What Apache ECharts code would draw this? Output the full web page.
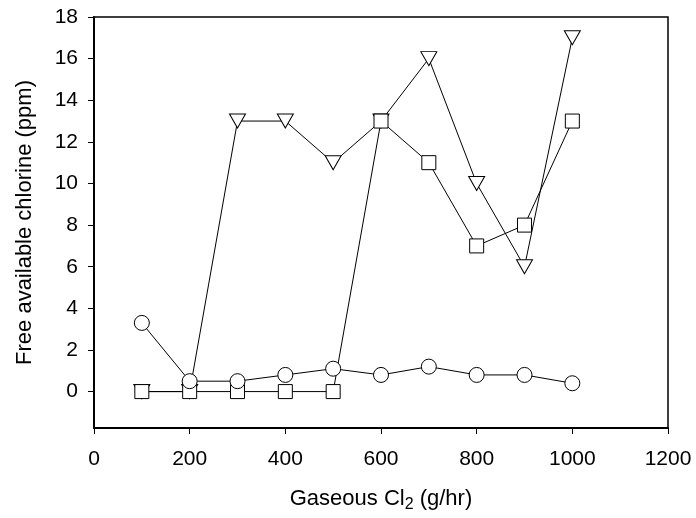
<!DOCTYPE html>
<html>
<head>
<meta charset="utf-8">
<script src="https://cdn.jsdelivr.net/npm/echarts@6/dist/echarts.min.js"></script>
<style>html,body{margin:0;padding:0;background:#fff}#c{width:696px;height:518px}</style>
</head>
<body>
<div id="c"></div>
<script>
const xValues = [100, 200, 300, 400, 500, 600, 700, 800, 900, 1000];
const circleSeries = [3.3, 0.5, 0.5, 0.8, 1.1, 0.8, 1.2, 0.8, 0.8, 0.4];
const squareSeries = [0, 0, 0, 0, 0, 13, 11, 7, 8, 13];
const triangleSeries = [0, 0, 13, 13, 11, 13, 16, 10, 6, 17];
const yTicks = [0, 2, 4, 6, 8, 10, 12, 14, 16, 18];

const pairs = arr => xValues.map((x, i) => [x, arr[i]]);
const font = 'Liberation Sans, Arial, sans-serif';
const base = {
  type: 'line',
  lineStyle: { color: '#000', width: 1 },
  itemStyle: { color: '#fff', borderColor: '#000', borderWidth: 1 },
  emphasis: { disabled: true },
  animation: false,
  z: 2
};
const chart = echarts.init(document.getElementById('c'));
chart.setOption({
  backgroundColor: '#fff',
  animation: false,
  grid: { left: 94, right: 28, top: 17, bottom: 90, show: true, borderColor: '#000', borderWidth: 1.5, backgroundColor: 'transparent' },
  xAxis: {
    type: 'value', min: 0, max: 1200, interval: 200,
    axisLine: { show: true, onZero: false, lineStyle: { color: '#000', width: 2 } },
    axisTick: { show: true, inside: false, length: 6, lineStyle: { color: '#000', width: 1 } },
    splitLine: { show: false },
    axisLabel: { color: '#000', fontSize: 21, fontFamily: font, margin: 21, formatter: v => String(v) },
    name: 'Gaseous Cl{sub|2} (g/hr)',
    nameLocation: 'middle', nameGap: 57,
    nameTextStyle: { color: '#000', fontSize: 22, fontFamily: font,
      rich: { sub: { fontSize: 16, fontFamily: font, color: '#000', padding: [12, 0, 0, 0] } } }
  },
  yAxis: {
    type: 'value', min: -1.75, max: 18,
    axisLine: { show: true, onZero: false, lineStyle: { color: '#000', width: 2 } },
    axisTick: { show: true, inside: false, length: 6, customValues: yTicks, lineStyle: { color: '#000', width: 1 } },
    splitLine: { show: false },
    axisLabel: { color: '#000', fontSize: 21, fontFamily: font, margin: 16, customValues: yTicks, formatter: v => String(v) },
    name: 'Free available chlorine (ppm)',
    nameLocation: 'middle', nameGap: 58,
    nameTextStyle: { color: '#000', fontSize: 22, fontFamily: font }
  },
  series: [
    Object.assign({}, base, { name: 'tri', data: pairs(triangleSeries), symbol: 'triangle', symbolRotate: 180, symbolSize: [16, 14], z: 2 }),
    Object.assign({}, base, { name: 'sq', data: pairs(squareSeries), symbol: 'rect', symbolSize: 14, z: 3 }),
    Object.assign({}, base, { name: 'circ', data: pairs(circleSeries), symbol: 'circle', symbolSize: 15, z: 4 })
  ]
});
</script>
</body>
</html>
